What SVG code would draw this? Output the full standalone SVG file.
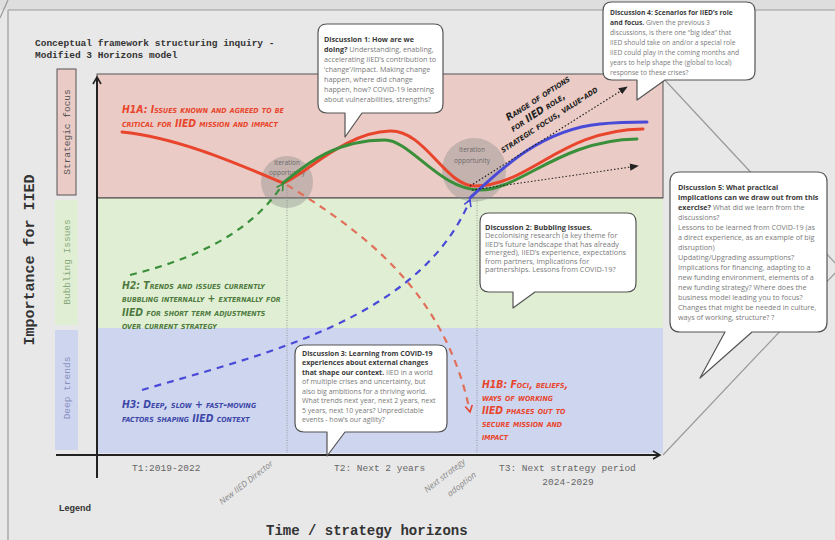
<svg xmlns="http://www.w3.org/2000/svg" width="835" height="540" viewBox="0 0 835 540">
<defs>
<style>
.bt{font-family:"Open Sans","Liberation Sans",sans-serif;fill:#7a7a7a}
.bb{font-weight:700;fill:#3a3a3a}
.bub{fill:#fff;stroke:#555;stroke-width:1.2;stroke-linejoin:round}
.hand{font-family:"DejaVu Sans Condensed","Liberation Sans Narrow",sans-serif;font-style:italic;font-weight:700;font-variant:small-caps;font-size:10.4px}
.it{font-family:"Open Sans",sans-serif;font-size:6.5px;fill:#6a6a6a;text-anchor:middle}
.tl{font-family:"Liberation Mono","DejaVu Sans Mono",monospace;font-size:9.5px;fill:#666}
.rot{font-family:"Open Sans",sans-serif;font-style:italic;font-size:8.5px;fill:#888}
.frame{fill:none;stroke:#9a9a9a;stroke-width:1.2}
.dash{fill:none;stroke-width:2.2;stroke-dasharray:7 6}
.dot{fill:none;stroke:#222;stroke-width:1.2;stroke-dasharray:1.5 2}
.curve{fill:none;stroke-width:3;stroke-linecap:round}
</style>
<marker id="mR" viewBox="0 0 10 10" refX="8" refY="5" markerWidth="9" markerHeight="9" markerUnits="userSpaceOnUse" orient="auto"><path d="M1,1 L8,5 L1,9" fill="none" stroke="#e8452c" stroke-width="1.8"/></marker>
<marker id="mG" viewBox="0 0 10 10" refX="8" refY="5" markerWidth="9" markerHeight="9" markerUnits="userSpaceOnUse" orient="auto"><path d="M1,1 L8,5 L1,9" fill="none" stroke="#3a8f3a" stroke-width="1.8"/></marker>
<marker id="mB" viewBox="0 0 10 10" refX="8" refY="5" markerWidth="9" markerHeight="9" markerUnits="userSpaceOnUse" orient="auto"><path d="M1,1 L8,5 L1,9" fill="none" stroke="#4a4ad8" stroke-width="1.8"/></marker>
<marker id="mK" viewBox="0 0 10 10" refX="9" refY="5" markerWidth="9" markerHeight="9" markerUnits="userSpaceOnUse" orient="auto"><path d="M0,1 L10,5 L0,9 Z" fill="#222"/></marker>
<marker id="mA" viewBox="0 0 10 10" refX="8" refY="5" markerWidth="10" markerHeight="10" markerUnits="userSpaceOnUse" orient="auto"><path d="M1,1 L8,5 L1,9" fill="none" stroke="#222" stroke-width="1.6"/></marker>
</defs>

<g id="background">
<rect x="0" y="0" width="835" height="540" fill="#e8e8e8"/>
<rect x="0" y="0" width="835" height="10" fill="#dedede"/>
<line class="frame" x1="8" y1="10" x2="835" y2="10"/>
<line class="frame" x1="8" y1="10" x2="8" y2="540"/>
<line class="frame" x1="0" y1="18" x2="8" y2="0"/>
<line class="frame" x1="663" y1="10" x2="663" y2="78"/>
<line class="frame" x1="663" y1="78" x2="838" y2="266"/>
<line class="frame" x1="663" y1="455" x2="838" y2="270"/>
</g>

<g id="bands">
<rect x="97" y="74" width="566" height="124" fill="#eacbc5" stroke="#555" stroke-width="1"/>
<rect x="97" y="198" width="566" height="130" fill="#e0efd3"/>
<rect x="97" y="328" width="566" height="125" fill="#cdd5ef"/>
<line x1="97" y1="198" x2="663" y2="198" stroke="#444" stroke-width="1.2"/>
<line x1="287" y1="185" x2="287" y2="453" stroke="#888" stroke-width="0.8" stroke-dasharray="1 1.5"/>
<line x1="477" y1="200" x2="477" y2="453" stroke="#888" stroke-width="0.8" stroke-dasharray="1 1.5"/>
</g>

<g id="title">
<text x="35" y="46" font-family="Liberation Mono, monospace" font-weight="700" font-size="9.5" fill="#333">Conceptual framework structuring inquiry -</text>
<text x="35" y="58" font-family="Liberation Mono, monospace" font-weight="700" font-size="9.5" fill="#333">Modified 3 Horizons model</text>
</g>

<g id="y-axis-labels">
<text transform="translate(34,260) rotate(-90)" text-anchor="middle" font-family="Liberation Mono, monospace" font-weight="700" font-size="15" fill="#333">Importance for IIED</text>
<g id="strategic-focus">
<rect x="57" y="69" width="19" height="126" fill="#eacbc5" stroke="#555" stroke-width="1"/>
<text transform="translate(70,132) rotate(-90)" text-anchor="middle" font-family="Liberation Mono, monospace" font-size="9.5" fill="#555">Strategic focus</text>
</g>
<g id="bubbling-issues">
<rect x="55" y="200" width="23" height="125" fill="#e0efd3"/>
<text transform="translate(70,262) rotate(-90)" text-anchor="middle" font-family="Liberation Mono, monospace" font-size="9.5" fill="#86a87a">Bubbling Issues</text>
</g>
<g id="deep-trends">
<rect x="55" y="330" width="23" height="120" fill="#cdd5ef"/>
<text transform="translate(70,388) rotate(-90)" text-anchor="middle" font-family="Liberation Mono, monospace" font-size="9.5" fill="#8890c0">Deep trends</text>
</g>
</g>

<g id="iteration-1">
<circle cx="287" cy="182" r="26" fill="#8c8c8c" fill-opacity="0.4"/>
<text class="it" x="287" y="165">Iteration</text>
<text class="it" x="287" y="175">opportunity</text>
</g>
<g id="iteration-2">
<circle cx="474" cy="170" r="32" fill="#8c8c8c" fill-opacity="0.4"/>
<text class="it" x="472" y="152">Iteration</text>
<text class="it" x="472" y="163">opportunity</text>
</g>

<g id="connectors">
<path class="curve" stroke="#e8452c" d="M122,132 C180,138 240,165 283,183 C305,175 345,132 390,131 C425,130 445,186 475,186 C530,186 560,130 643,129"/>
<path class="curve" stroke="#3a8f3a" d="M283,183 C300,170 330,140 385,140 C410,140 440,190 480,190 C520,190 560,140 637,139"/>
<path class="curve" stroke="#4a4ad8" d="M470,198 C500,170 540,130 600,124 C620,122 635,122 647,122"/>
<path class="dash" stroke="#e0705a" d="M287,185 C360,230 445,290 470,412" marker-end="url(#mR)"/>
<path class="dash" stroke="#3a8f3a" d="M130,275 C190,260 250,235 283,184" marker-end="url(#mG)"/>
<path class="dash" stroke="#4a4ad8" d="M142,390 C260,355 420,320 470,200" marker-end="url(#mB)"/>
<path class="dot" d="M470,186 L627,87" marker-end="url(#mK)"/>
<path class="dot" d="M472,190 L638,166" marker-end="url(#mK)"/>
<line x1="97" y1="478" x2="97" y2="77" stroke="#222" stroke-width="2" marker-end="url(#mA)"/>
<line x1="56" y1="455" x2="660" y2="455" stroke="#222" stroke-width="2" marker-end="url(#mA)"/>
</g>

<g id="h1a">
<text class="hand" x="122" y="113" fill="#e8452c">H1A: Issues known and agreed to be</text>
<text class="hand" x="122" y="127" fill="#e8452c">critical for IIED mission and impact</text>
</g>
<g id="h2">
<text class="hand" x="122" y="289" fill="#4e7a3e">H2: Trends and issues currently</text>
<text class="hand" x="122" y="302" fill="#4e7a3e">bubbling internally + externally for</text>
<text class="hand" x="122" y="316" fill="#4e7a3e">IIED for short term adjustments</text>
<text class="hand" x="122" y="329" fill="#4e7a3e">over current strategy</text>
</g>
<g id="h3">
<text class="hand" x="122" y="408" fill="#3d47a8">H3: Deep, slow + fast-moving</text>
<text class="hand" x="122" y="422" fill="#3d47a8">factors shaping IIED context</text>
</g>
<g id="h1b">
<text class="hand" x="482" y="388" fill="#e8452c">H1B: Foci, beliefs,</text>
<text class="hand" x="482" y="401" fill="#e8452c">ways of working</text>
<text class="hand" x="482" y="414" fill="#e8452c">IIED phases out to</text>
<text class="hand" x="482" y="427" fill="#e8452c">secure mission and</text>
<text class="hand" x="482" y="440" fill="#e8452c">impact</text>
</g>
<g id="range-of-options" transform="translate(503,153) rotate(-33)">
<text class="hand" x="22" y="-24" fill="#222" style="font-size:10px">Range of options</text>
<text class="hand" x="20" y="-12" fill="#222" style="font-size:10px">for IIED role,</text>
<text class="hand" x="0" y="0" fill="#222" style="font-size:10px">strategic focus, value-add</text>
</g>

<g id="discussion-1">
<path class="bub" d="M327,24 H434 Q443,24 443,33 V104 Q443,113 434,113 H362 L345,137 V113 H327 Q318,113 318,104 V33 Q318,24 327,24 Z"/>
<g class="bt" style="font-size:7.2px">
<text x="324" y="42"><tspan class="bb">Discussion 1: How are we</tspan></text>
<text x="324" y="52"><tspan class="bb">doing?</tspan> Understanding, enabling,</text>
<text x="324" y="62">accelerating IIED’s contribution to</text>
<text x="324" y="72">‘change’/impact. Making change</text>
<text x="324" y="82">happen, where did change</text>
<text x="324" y="92">happen, how? COVID-19 learning</text>
<text x="324" y="102">about vulnerabilities, strengths?</text>
</g>
</g>

<g id="discussion-4">
<path class="bub" d="M612,2 H746 Q755,2 755,11 V71 Q755,80 746,80 H665 L637,100 V80 H612 Q603,80 603,71 V11 Q603,2 612,2 Z"/>
<g class="bt" style="font-size:6.7px">
<text x="610" y="14.5"><tspan class="bb">Discussion 4: Scenarios for IIED’s role</tspan></text>
<text x="610" y="24.5"><tspan class="bb">and focus.</tspan> Given the previous 3</text>
<text x="610" y="34.5">discussions, is there one “big idea” that</text>
<text x="610" y="44.5">IIED should take on and/or a special role</text>
<text x="610" y="54.5">IIED could play in the coming months and</text>
<text x="610" y="64.5">years to help shape the (global to local)</text>
<text x="610" y="74.5">response to these crises?</text>
</g>
</g>

<g id="discussion-2">
<path class="bub" d="M489,213 H627 Q636,213 636,222 V283 Q636,292 627,292 H535 L513,308 V292 H489 Q480,292 480,283 V222 Q480,213 489,213 Z"/>
<g class="bt" style="font-size:7.3px">
<text x="485" y="229.5"><tspan class="bb">Discussion 2: Bubbling issues.</tspan></text>
<text x="485" y="238">Decolonising research (a key theme for</text>
<text x="485" y="246.5">IIED’s future landscape that has already</text>
<text x="485" y="255">emerged), IIED’s experience, expectations</text>
<text x="485" y="263.5">from partners, implications for</text>
<text x="485" y="272">partnerships. Lessons from COVID-19?</text>
</g>
</g>

<g id="discussion-3">
<path class="bub" d="M304,345 H438 Q447,345 447,354 V423 Q447,432 438,432 H345 L327,456 V432 H304 Q295,432 295,423 V354 Q295,345 304,345 Z"/>
<g class="bt" style="font-size:7px">
<text x="302" y="355.5"><tspan class="bb">Discussion 3: Learning from COVID-19</tspan></text>
<text x="302" y="365"><tspan class="bb">experiences about external changes</tspan></text>
<text x="302" y="374.5"><tspan class="bb">that shape our context.</tspan> IIED in a world</text>
<text x="302" y="384">of multiple crises and uncertainty, but</text>
<text x="302" y="393.5">also big ambitions for a thriving world.</text>
<text x="302" y="403">What trends next year, next 2 years, next</text>
<text x="302" y="412.5">5 years, next 10 years? Unpredictable</text>
<text x="302" y="422">events - how’s our agility?</text>
</g>
</g>

<g id="discussion-5">
<path class="bub" d="M680,172 H817 Q827,172 827,182 V322 Q827,332 817,332 H752 L700,378 L725,332 H680 Q670,332 670,322 V182 Q670,172 680,172 Z"/>
<g class="bt" style="font-size:7.2px">
<text x="678" y="189.5"><tspan class="bb">Discussion 5: What practical</tspan></text>
<text x="678" y="199.5"><tspan class="bb">implications can we draw out from this</tspan></text>
<text x="678" y="209.5"><tspan class="bb">exercise?</tspan>  What did we learn from the</text>
<text x="678" y="219.5">discussions?</text>
<text x="678" y="229.5">Lessons to be learned from COVID-19 (as</text>
<text x="678" y="239.5">a direct experience, as an example of big</text>
<text x="678" y="249.5">disruption)</text>
<text x="678" y="259.5">Updating/Upgrading assumptions?</text>
<text x="678" y="269.5">Implications for financing, adapting to a</text>
<text x="678" y="279.5">new funding environment, elements of a</text>
<text x="678" y="289.5">new funding strategy? Where does the</text>
<text x="678" y="299.5">business model leading you to focus?</text>
<text x="678" y="309.5">Changes that might be needed in culture,</text>
<text x="678" y="319.5">ways of working, structure? ?</text>
</g>
</g>

<g id="time-labels">
<text class="tl" x="132" y="471">T1:2019-2022</text>
<text class="tl" x="334" y="471">T2: Next 2 years</text>
<text class="tl" x="499" y="471">T3: Next strategy period</text>
<text class="tl" x="568" y="485" text-anchor="middle">2024-2029</text>
<text class="rot" transform="translate(222,505) rotate(-38)">New IIED Director</text>
<text class="rot" transform="translate(427,493) rotate(-38)">Next strategy</text>
<text class="rot" transform="translate(450,497) rotate(-38)">adoption</text>
<text x="59" y="511" font-family="Liberation Sans Narrow, Liberation Sans, sans-serif" font-weight="700" font-size="9" fill="#333">Legend</text>
<text x="266" y="535" font-family="Liberation Mono, monospace" font-weight="700" font-size="14" fill="#333">Time / strategy horizons</text>
</g>
</svg>
